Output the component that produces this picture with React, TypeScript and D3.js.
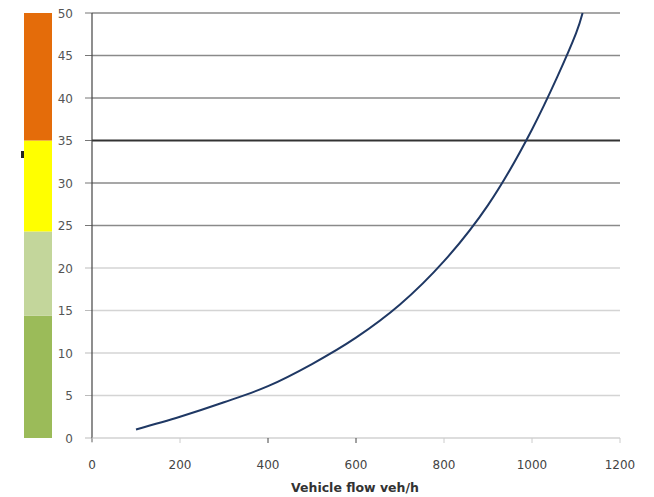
import React from "react";
import * as d3 from "d3";

const flow = [100, 200, 300, 400, 500, 600, 700, 800, 900, 1000, 1100, 1115];
const delay = [1, 2.5, 4.2, 6.1, 8.7, 11.8, 15.7, 20.8, 27.4, 36.3, 47.6, 50];
const xTicks = [0, 200, 400, 600, 800, 1000, 1200];
const yTicks = [0, 5, 10, 15, 20, 25, 30, 35, 40, 45, 50];
const bandEdges = [0, 14.4, 24.3, 35, 50];
const bandColors = ["#9BBB59", "#C3D69B", "#FFFF00", "#E46C0A"];
const xTitle = "Vehicle flow veh/h";

export default function App() {
  const W = 654, H = 497;
  const x = d3.scaleLinear().domain([0, 1200]).range([92, 620]);
  const y = d3.scaleLinear().domain([0, 50]).range([438, 13]);
  const line = d3
    .line<number>()
    .x((_, i) => x(flow[i]))
    .y((d) => y(d))
    .curve(d3.curveCatmullRom.alpha(0.5));
  const font = "'DejaVu Sans', Verdana, sans-serif";
  return (
    <svg width={W} height={H} style={{ position: "absolute", left: 0, top: 0, background: "#fff" }}>
      {bandColors.map((c, i) => (
        <rect key={i} x={24} width={28} y={y(bandEdges[i + 1])} height={y(bandEdges[i]) - y(bandEdges[i + 1])} fill={c} />
      ))}
      <rect x={21} y={151} width={3} height={7} fill="#222" />
      {yTicks.map((t) => (
        <g key={t}>
          {t > 0 && (
            <line x1={92} x2={620} y1={y(t)} y2={y(t)}
              stroke={t === 35 ? "#333" : t >= 25 ? "#8a8a8a" : "#d4d4d4"}
              strokeWidth={t === 35 ? 2 : 1.3} />
          )}
          <line x1={85} x2={92} y1={y(t)} y2={y(t)} stroke={t >= 25 ? "#777" : "#bbb"} />
          <text x={73} y={y(t) + 4.5} textAnchor="end" fontSize={12} fontFamily={font} fill="#555">{t}</text>
        </g>
      ))}
      <line x1={92} x2={92} y1={13} y2={442} stroke="#444" strokeWidth={1.2} />
      <line x1={92} x2={620} y1={438} y2={438} stroke="#bbb" strokeWidth={1.2} />
      {xTicks.map((t) => (
        <g key={t}>
          <line x1={x(t)} x2={x(t)} y1={438} y2={443} stroke={t === 400 || t === 600 ? "#444" : "#ccc"} />
          <text x={x(t)} y={469} textAnchor="middle" fontSize={12} fontFamily={font} fill="#444">{t}</text>
        </g>
      ))}
      <text x={355} y={492} textAnchor="middle" fontSize={12.5} fontWeight="bold" fontFamily={font} fill="#333">{xTitle}</text>
      <path d={line(delay) || ""} fill="none" stroke="#1F3864" strokeWidth={2} />
    </svg>
  );
}
